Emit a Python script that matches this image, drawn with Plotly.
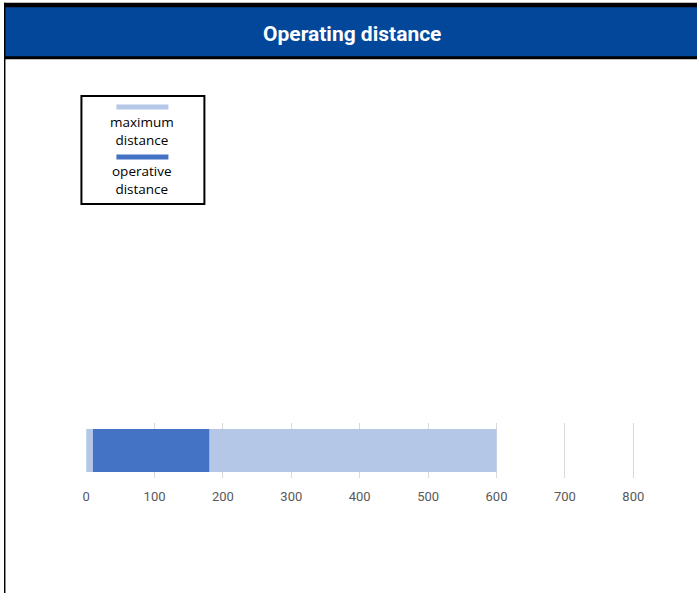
import plotly.graph_objects as go

W, H = 697, 593

categories = ["distance"]
max_distance = [600]
operative_start = [10]
operative_end = [180]
series_names = ["maximum<br>distance", "operative<br>distance"]
tick_values = [0, 100, 200, 300, 400, 500, 600, 700, 800]
title_text = "Operating distance"

LIGHT = "#B4C7E7"
DARK = "#4472C4"
HEADER = "#02479A"

# empirical horizontal correction of the rendering
CX_A, CX_B = 3.55, 0.9945

def px(x):
    return min(max(((x - CX_A) / CX_B) / W, 0.0), 1.0)

def py(y):
    return 1 - y / H

fig = go.Figure()
fig.add_trace(go.Bar(
    y=categories, x=max_distance, base=[0], orientation="h",
    marker=dict(color=LIGHT, line=dict(width=0)), name="maximum distance",
    showlegend=False, hoverinfo="x",
))
fig.add_trace(go.Bar(
    y=categories, x=[e - s for s, e in zip(operative_start, operative_end)],
    base=operative_start, orientation="h",
    marker=dict(color=DARK, line=dict(width=0)), name="operative distance",
    showlegend=False,
))

shapes = []
annotations = []
shapes.append(dict(type="rect", xref="paper", yref="paper", x0=px(2), x1=1.0,
                   y0=py(57), y1=py(6), fillcolor=HEADER, line=dict(width=0), layer="below"))
shapes.append(dict(type="rect", xref="paper", yref="paper", x0=0, x1=1.0,
                   y0=py(7.3), y1=py(2.7), fillcolor="black", line=dict(width=0)))
shapes.append(dict(type="rect", xref="paper", yref="paper", x0=px(2), x1=1.0,
                   y0=py(59.3), y1=py(56.2), fillcolor="black", line=dict(width=0)))
shapes.append(dict(type="rect", xref="paper", yref="paper", x0=px(2), x1=px(5),
                   y0=0, y1=py(2.7), fillcolor="black", line=dict(width=0)))
annotations.append(dict(text="<b>" + title_text + "</b>", xref="paper", yref="paper",
                        x=px(351.5), y=py(34), showarrow=False,
                        font=dict(family="Roboto", size=21, color="white"),
                        xanchor="center", yanchor="middle"))

# custom legend
shapes.append(dict(type="rect", xref="paper", yref="paper", x0=px(81), x1=px(204),
                   y0=py(204), y1=py(96), fillcolor="white", line=dict(color="black", width=2)))
legend_colors = [LIGHT, DARK]
line_y = [107, 157]
text_y = [131, 180]
for name, c, ly, ty in zip(series_names, legend_colors, line_y, text_y):
    shapes.append(dict(type="line", xref="paper", yref="paper", x0=px(116), x1=px(168),
                       y0=py(ly), y1=py(ly), line=dict(color=c, width=5)))
    annotations.append(dict(text=name, xref="paper", yref="paper", x=px(142), y=py(ty),
                            showarrow=False, xanchor="center", yanchor="middle", align="center",
                            font=dict(family="Open Sans, Noto Sans", size=13.5, color="black")))

# axis geometry (target pixels: 0 -> 85.7, 800 -> 633)
x0_in = (85.7 - CX_A) / CX_B
x800_in = (633 - CX_A) / CX_B
unit = (x800_in - x0_in) / 800
x_end = (W - x0_in) / unit

fig.update_layout(
    width=W, height=H,
    margin=dict(l=0, r=0, t=0, b=0),
    paper_bgcolor="white", plot_bgcolor="white",
    barmode="overlay", bargap=0.22,
    shapes=shapes, annotations=annotations,
    showlegend=False,
    xaxis=dict(domain=[x0_in / W, 1.0], range=[0, x_end], tickvals=tick_values,
               showgrid=True, gridcolor="#D9D9D9", gridwidth=1, zeroline=False,
               showline=False, ticks="", ticklabelstandoff=9,
               tickfont=dict(family="Roboto", size=13, color="#595959")),
    yaxis=dict(domain=[py(478), py(423)], range=[-0.5, 0.5], showticklabels=False,
               showgrid=False, zeroline=False, showline=False, ticks=""),
)

fig.write_html(
    "out.html",
    config={"displayModeBar": False},
    post_script="document.body.style.margin='0';document.body.style.padding='0';document.body.style.overflow='hidden';",
)
